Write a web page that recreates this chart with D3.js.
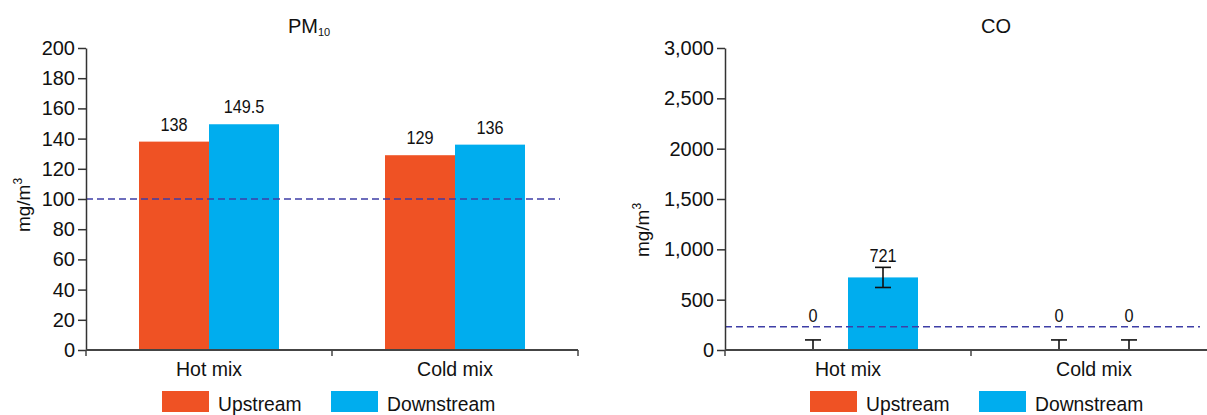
<!DOCTYPE html>
<html><head><meta charset="utf-8">
<script src="https://cdn.jsdelivr.net/npm/d3@7"></script>
<style>
body{margin:0;background:#fff;}
text{font-family:"Liberation Sans",Arial,sans-serif;fill:#111;}
</style></head>
<body><svg id="c" width="1207" height="415"></svg>
<script>
const categories = ["Hot mix", "Cold mix"];
const seriesNames = ["Upstream", "Downstream"];
const pmUpstream = [138, 129];
const pmDownstream = [149.5, 136];
const pmLabels = ["138", "129", "149.5", "136"];
const pmTicks = [0, 20, 40, 60, 80, 100, 120, 140, 160, 180, 200];
const pmTickLabels = ["0","20","40","60","80","100","120","140","160","180","200"];
const pmLimit = 100;
const coUpstream = [0, 0];
const coDownstream = [721, 0];
const coErrUpstream = [100, 100];
const coErrDownstream = [100, 100];
const coLabels = ["0", "0", "721", "0"];
const coTicks = [0, 500, 1000, 1500, 2000, 2500, 3000];
const coTickLabels = ["0", "500", "1,000", "1,500", "2000", "2,500", "3,000"];
const coLimit = 230;

const colors = ["#EF5224", "#00ADEE"];
const svg = d3.select("#c");

function panel(o) {
  const g = svg.append("g");
  const x = d3.scaleBand().domain(categories).range([o.x0, o.x0 + 492]);
  const xs = d3.scaleBand().domain(seriesNames).range([0, 140]);
  const y = d3.scaleLinear().domain([0, o.max]).range([350, 48]);
  const series = [o.up, o.down];
  const errs = [o.errUp, o.errDown];
  series.forEach((vals, si) => {
    vals.forEach((v, ci) => {
      const bx = x(categories[ci]) + x.bandwidth() / 2 - 70 + xs(seriesNames[si]);
      g.append("rect").attr("x", bx).attr("y", y(v)).attr("width", xs.bandwidth())
        .attr("height", y(0) - y(v)).attr("fill", colors[si]);
    });
  });
  g.append("line").attr("x1", o.x0).attr("x2", o.limitEnd).attr("y1", y(o.limit)).attr("y2", y(o.limit))
    .attr("stroke", "#3e3ea6").attr("stroke-width", 1.5).attr("stroke-dasharray", "7,4");
  if (errs[0]) {
    series.forEach((vals, si) => {
      vals.forEach((v, ci) => {
        const cx = x(categories[ci]) + x.bandwidth() / 2 - 70 + xs(seriesNames[si]) + xs.bandwidth() / 2;
        const e = errs[si][ci];
        const lo = Math.max(0, v - e), hi = v + e;
        g.append("line").attr("x1", cx).attr("x2", cx).attr("y1", y(lo)).attr("y2", y(hi)).attr("stroke", "#111").attr("stroke-width", 1.6);
        [lo, hi].forEach(t => g.append("line").attr("x1", cx - 8).attr("x2", cx + 8).attr("y1", y(t)).attr("y2", y(t)).attr("stroke", "#111").attr("stroke-width", 1.6));
      });
    });
  }
  series.forEach((vals, si) => {
    vals.forEach((v, ci) => {
      const cx = x(categories[ci]) + x.bandwidth() / 2 - 70 + xs(seriesNames[si]) + xs.bandwidth() / 2;
      let ly = y(v) - 11;
      if (errs[0]) ly = Math.min(y(v + errs[si][ci]) - 5, y(0) - 28);
      g.append("text").attr("transform", `translate(${cx},${ly}) scale(0.88,1)`).attr("text-anchor", "middle")
        .style("font-size", "18.5px").text(o.labels[si * 2 + ci]);
    });
  });
  const ya = d3.axisLeft(y).tickValues(o.ticks).tickFormat((d, i) => o.tickLabels[i]).tickSize(8).tickPadding(3).tickSizeOuter(0);
  const yg = g.append("g").attr("transform", `translate(${o.x0},0)`).call(ya);
  yg.selectAll("text").style("font-size", "20px").attr("fill", "#111");
  yg.selectAll("line, path").attr("stroke", "#333").attr("stroke-width", 1.5);
  g.append("line").attr("x1", o.x0).attr("x2", o.x0 + 492).attr("y1", 350).attr("y2", 350).attr("stroke", "#444").attr("stroke-width", 2);
  const bounds = categories.map(c => x(c)).concat([o.x0 + 492]);
  bounds.forEach(b => g.append("line").attr("x1", b).attr("x2", b).attr("y1", 350).attr("y2", 356).attr("stroke", "#444").attr("stroke-width", 1.5));
  categories.forEach(c => g.append("text").attr("x", x(c) + x.bandwidth() / 2).attr("y", 376)
    .attr("text-anchor", "middle").style("font-size", "19.5px").text(c));
  const yl = g.append("text").attr("transform", `translate(${o.ylx},${o.yly}) rotate(-90)`).attr("text-anchor", "middle").style("font-size", "19px");
  yl.append("tspan").text("mg/m");
  yl.append("tspan").attr("dy", -8).style("font-size", "12px").text("3");
  const t = g.append("text").attr("x", o.tx).attr("y", 33).attr("text-anchor", "middle").style("font-size", "20px");
  t.append("tspan").text(o.title);
  if (o.sub) t.append("tspan").attr("dy", 3).style("font-size", "11px").text(o.sub);
  seriesNames.forEach((s, i) => {
    const lx = o.legX + i * 169;
    g.append("rect").attr("x", lx).attr("y", 391).attr("width", 47).attr("height", 21).attr("fill", colors[i]);
    g.append("text").attr("x", lx + 56).attr("y", 411).style("font-size", "19.3px").text(s);
  });
}

panel({x0: 86, max: 200, up: pmUpstream, down: pmDownstream, errUp: null, errDown: null, labels: pmLabels,
  ticks: pmTicks, tickLabels: pmTickLabels, limit: pmLimit, limitEnd: 560, ylx: 30, yly: 205, tx: 309, title: "PM", sub: "10", legX: 162});
panel({x0: 725, max: 3000, up: coUpstream, down: coDownstream, errUp: coErrUpstream, errDown: coErrDownstream, labels: coLabels,
  ticks: coTicks, tickLabels: coTickLabels, limit: coLimit, limitEnd: 1200, ylx: 649, yly: 230, tx: 996, title: "CO", sub: null, legX: 810});
</script></body></html>
